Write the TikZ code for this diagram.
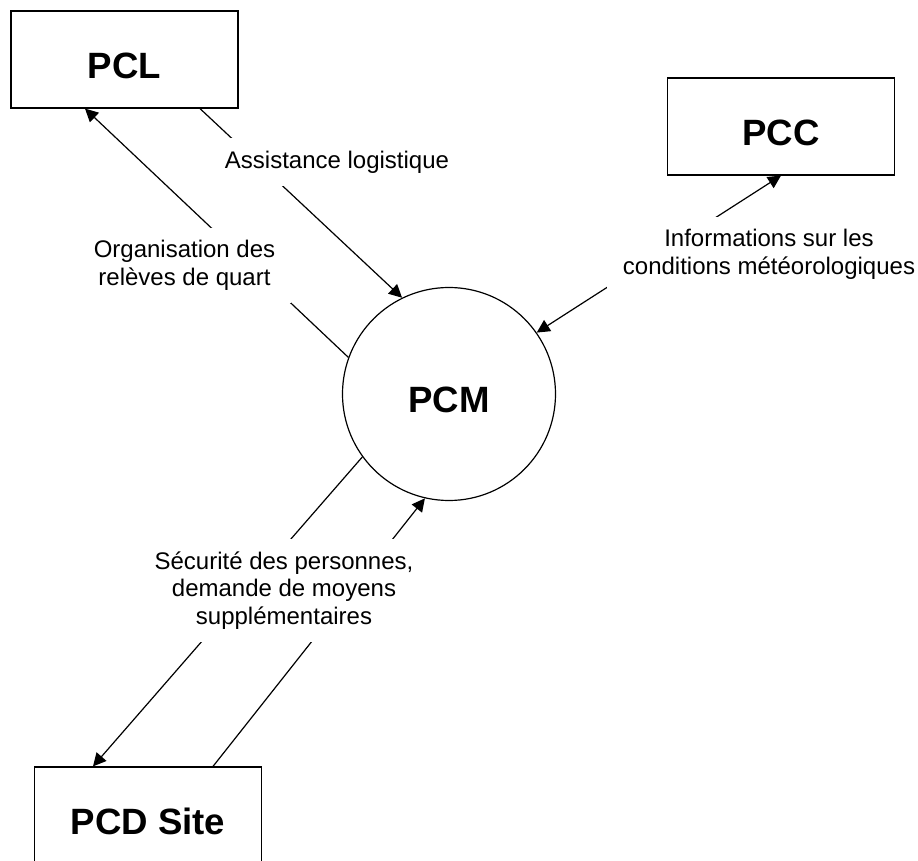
\documentclass[tikz,border=0pt]{standalone}
\usepackage{fontspec}
\setmainfont{Liberation Sans}
\usetikzlibrary{arrows.meta,calc}

\begin{document}
\begin{tikzpicture}[x=0.5pt,y=-0.5pt,line width=0.6pt,
  box/.style={draw,minimum width=113.5pt,minimum height=48.5pt,inner sep=0pt,
    font=\fontsize{18.3}{20}\selectfont\bfseries,text height=19pt,text depth=0pt},
  disc/.style={draw,circle,minimum size=106.5pt,inner sep=0pt,
    font=\fontsize{18.3}{20}\selectfont\bfseries,text height=19pt,text depth=0pt},
  lbl/.style={fill=white,align=center,inner xsep=8pt,inner ysep=6.2pt,
    font=\fontsize{12}{13.8}\selectfont},
  arr/.style={-{Triangle[length=6.5pt,width=6.5pt]}},
  darr/.style={{Triangle[length=6.5pt,width=6.5pt]}-{Triangle[length=6.5pt,width=6.5pt]}}]
\useasboundingbox (0,0) rectangle (918,861);
\node[box] (bxPcl) at (124.5,59.5) {PCL};
\node[box] (bxPcc) at (781,126.5) {PCC};
\node[box] (bxPcd) at (148,815.5) {PCD Site};
\node[disc] (ciPcm) at (449,394) {PCM};
\draw[arr] (ciPcm.160) -- ($(bxPcl.south)+(-39.5,0)$);
\draw[arr] ($(bxPcl.south)+(75.5,0)$) -- (ciPcm.116);
\draw[darr] (ciPcm.35) -- (bxPcc.south);
\draw[arr] (ciPcm.216) -- ($(bxPcd.north)+(-55,0)$);
\draw[arr] ($(bxPcd.north)+(65,0)$) -- (ciPcm.257);
\node[lbl] (lbAssist) at (337,162) {Assistance logistique};
\node[lbl] (lbOrga) at (184.5,265.5) {Organisation des\\relèves de quart};
\node[lbl] (lbInfo) at (769,254) {Informations sur les\\conditions météorologiques};
\node[lbl] (lbSecu) at (284,590.5) {Sécurité des personnes,\\demande de moyens\\supplémentaires};
\end{tikzpicture}
\end{document}
